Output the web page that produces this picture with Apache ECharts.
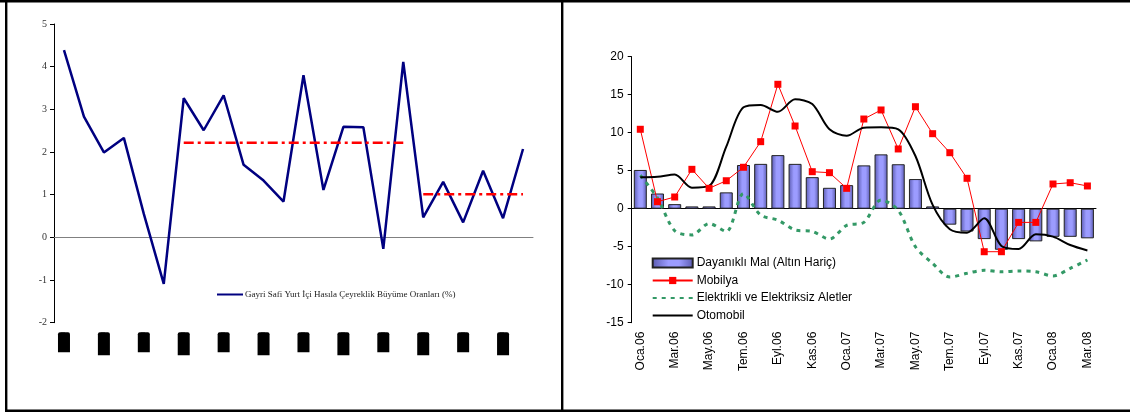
<!DOCTYPE html>
<html>
<head>
<meta charset="utf-8">
<script src="https://cdn.jsdelivr.net/npm/echarts@6/dist/echarts.min.js"></script>
<style>
  html, body { margin: 0; padding: 0; background: #fff; }
  #chart { width: 1130px; height: 412px; }
</style>
</head>
<body>
<div id="chart"></div>
<script>
// Left panel: quarterly GDP growth (%), 2002-I .. 2007-IV
const gdpQuarters = [
  '2002-I', '2002-II', '2002-III', '2002-IV',
  '2003-I', '2003-II', '2003-III', '2003-IV',
  '2004-I', '2004-II', '2004-III', '2004-IV',
  '2005-I', '2005-II', '2005-III', '2005-IV',
  '2006-I', '2006-II', '2006-III', '2006-IV',
  '2007-I', '2007-II', '2007-III', '2007-IV'
];
const gdpGrowth = [
  4.39, 2.83, 1.99, 2.33, 0.55, -1.09, 3.26, 2.51, 3.33, 1.70, 1.33, 0.84,
  3.80, 1.11, 2.59, 2.58, -0.27, 4.11, 0.47, 1.30, 0.35, 1.56, 0.45, 2.07
];
// Period averages (dash-dot reference levels)
const avgPeriod1 = [
  null, null, null, null, null, null, 2.22, 2.22, 2.22, 2.22, 2.22, 2.22,
  2.22, 2.22, 2.22, 2.22, 2.22, 2.22, null, null, null, null, null, null
];
const avgPeriod2 = [
  null, null, null, null, null, null, null, null, null, null, null, null,
  null, null, null, null, null, null, 1.01, 1.01, 1.01, 1.01, 1.01, 1.01
];
const gdpTicks = { min: -2, max: 5, step: 1 };

// Right panel: monthly durable goods indicators (%)
const months = [
  'Oca.06', 'Şub.06', 'Mar.06', 'Nis.06', 'May.06', 'Haz.06', 'Tem.06', 'Ağu.06', 'Eyl.06',
  'Eki.06', 'Kas.06', 'Ara.06', 'Oca.07', 'Şub.07', 'Mar.07', 'Nis.07', 'May.07', 'Haz.07',
  'Tem.07', 'Ağu.07', 'Eyl.07', 'Eki.07', 'Kas.07', 'Ara.07', 'Oca.08', 'Şub.08', 'Mar.08'
];
const durableGoods = [
  5.1, 2.0, 0.6, 0.3, 0.3, 2.15, 5.75, 5.9, 7.05, 5.9, 4.15, 2.75, 3.1, 5.7,
  7.15, 5.85, 3.9, 0.3, -2.1, -3.0, -4.0, -5.4, -4.0, -4.3, -3.7, -3.7, -3.9
];
const furniture = [
  10.45, 0.92, 1.54, 5.18, 2.68, 3.68, 5.45, 8.82, 16.37, 10.88, 4.87, 4.74, 2.68, 11.8,
  12.99, 7.86, 13.42, 9.87, 7.37, 4.0, -5.66, -5.66, -1.8, -1.8, 3.25, 3.42, 2.99
];
const appliances = [
  4.4, 1.4, -2.9, -3.45, -1.95, -3.0, 2.0, -0.85, -1.5, -2.8, -3.0, -4.0, -2.2, -1.8,
  1.15, -0.2, -5.0, -7.2, -9.0, -8.5, -8.1, -8.3, -8.2, -8.3, -8.85, -7.85, -6.75
];
const automobiles = [
  4.13, 4.21, 4.5, 2.77, 2.99, 8.16, 13.34, 13.64, 12.76, 14.39, 13.78, 10.45, 9.6, 10.66,
  10.71, 10.45, 6.93, 0.5, -2.7, -3.15, -1.27, -4.9, -5.3, -3.37, -3.68, -4.78, -5.5
];
const monthTicks = { min: -15, max: 20, step: 5 };

const gdpName = 'Gayri Safi Yurt İçi Hasıla Çeyreklik Büyüme Oranları (%)';
const names = ['Dayanıklı Mal (Altın Hariç)', 'Mobilya', 'Elektrikli ve Elektriksiz Aletler', 'Otomobil'];

const serif = "'Liberation Serif', 'Times New Roman', serif";
const sans = "'Liberation Sans', Arial, sans-serif";

const barFill = new echarts.graphic.LinearGradient(0, 0, 1, 0, [
  { offset: 0, color: '#5a5ab0' },
  { offset: 0.4, color: '#9c9cff' },
  { offset: 0.65, color: '#9c9cff' },
  { offset: 1, color: '#5a5ab0' }
]);

// legend entries for plain lines: keep the line, hide the marker
const noMarker = { color: 'rgba(0,0,0,0)', borderWidth: 0, opacity: 0 };

const chart = echarts.init(document.getElementById('chart'), null, { renderer: 'canvas' });

chart.setOption({
  animation: false,
  backgroundColor: '#ffffff',
  grid: [
    { left: 54, top: 24, width: 479, height: 298.7, outerBoundsMode: 'none', containLabel: false },
    { left: 631.7, top: 56.7, width: 464.3, height: 266, outerBoundsMode: 'none', containLabel: false }
  ],
  xAxis: [
    {
      gridIndex: 0,
      type: 'category',
      data: gdpQuarters,
      boundaryGap: true,
      axisLine: { onZero: true, lineStyle: { color: '#808080', width: 1 } },
      axisTick: { show: false },
      axisLabel: {
        interval: 1,
        rotate: 90,
        margin: 9.5,
        formatter: function (v) {
          return (/-III$/.test(v) ? '{b|' : '{a|') + v + '}';
        },
        rich: {
          a: { width: 20, height: 12, fontSize: 5, color: '#000', backgroundColor: '#000', borderRadius: [0, 2, 2, 0] },
          b: { width: 23, height: 12, fontSize: 5, color: '#000', backgroundColor: '#000', borderRadius: [0, 2, 2, 0] }
        }
      }
    },
    {
      gridIndex: 1,
      type: 'category',
      data: months,
      boundaryGap: true,
      axisLine: { onZero: true, lineStyle: { color: '#000', width: 1 } },
      axisTick: { interval: 1, length: 4, lineStyle: { color: '#000' } },
      axisLabel: {
        interval: 1,
        rotate: 90,
        margin: 9,
        fontFamily: sans,
        fontSize: 12,
        color: '#000'
      }
    }
  ],
  yAxis: [
    {
      gridIndex: 0,
      type: 'value',
      min: gdpTicks.min,
      max: gdpTicks.max,
      interval: gdpTicks.step,
      axisLine: { show: true, onZero: false, lineStyle: { color: '#000', width: 1 } },
      axisTick: { show: true, length: 4, lineStyle: { color: '#000' } },
      splitLine: { show: false },
      axisLabel: { margin: 7, fontFamily: serif, fontSize: 10, color: '#333' }
    },
    {
      gridIndex: 1,
      type: 'value',
      min: monthTicks.min,
      max: monthTicks.max,
      interval: monthTicks.step,
      axisLine: { show: true, onZero: false, lineStyle: { color: '#000', width: 1 } },
      axisTick: { show: true, length: 4, lineStyle: { color: '#000' } },
      splitLine: { show: false },
      axisLabel: { margin: 8, fontFamily: sans, fontSize: 12, color: '#000' }
    }
  ],
  legend: [
    {
      data: [{ name: gdpName, itemStyle: noMarker }],
      left: 211,
      top: 285,
      itemWidth: 26,
      itemHeight: 8,
      textStyle: { fontFamily: serif, fontSize: 9, color: '#222', padding: [0, 0, 0, -3] }
    },
    {
      data: [
        { name: names[0], icon: 'rect' },
        names[1],
        { name: names[2], itemStyle: noMarker },
        { name: names[3], itemStyle: noMarker }
      ],
      orient: 'vertical',
      left: 646.7,
      top: 251,
      itemWidth: 40,
      itemHeight: 9,
      itemGap: 3.5,
      textStyle: { fontFamily: sans, fontSize: 12, color: '#000', lineHeight: 14, padding: [0, 0, 0, -1] }
    }
  ],
  graphic: [
    { type: 'rect', shape: { x: 0, y: 0, width: 1130, height: 2.6 }, style: { fill: '#000' } },
    { type: 'rect', shape: { x: 5, y: 0, width: 2.4, height: 412 }, style: { fill: '#000' } },
    { type: 'rect', shape: { x: 561, y: 0, width: 2.4, height: 412 }, style: { fill: '#000' } },
    { type: 'rect', shape: { x: 5, y: 409.4, width: 1125, height: 2.6 }, style: { fill: '#000' } }
  ],
  series: [
    {
      name: gdpName,
      type: 'line',
      xAxisIndex: 0,
      yAxisIndex: 0,
      data: gdpGrowth,
      symbol: 'none',
      lineStyle: { color: '#000080', width: 2.5 },
      itemStyle: { color: '#000080' }
    },
    {
      name: 'Ortalama 1',
      type: 'line',
      xAxisIndex: 0,
      yAxisIndex: 0,
      data: avgPeriod1,
      symbol: 'none',
      silent: true,
      lineStyle: { color: '#ff0000', width: 2.5, type: [10, 4, 3, 4] }
    },
    {
      name: 'Ortalama 2',
      type: 'line',
      xAxisIndex: 0,
      yAxisIndex: 0,
      data: avgPeriod2,
      symbol: 'none',
      silent: true,
      lineStyle: { color: '#ff0000', width: 2.5, type: [10, 4, 3, 4] }
    },
    {
      name: names[0],
      type: 'bar',
      xAxisIndex: 1,
      yAxisIndex: 1,
      data: durableGoods,
      barWidth: 13,
      itemStyle: { color: barFill, borderColor: '#222', borderWidth: 1 }
    },
    {
      name: names[1],
      type: 'line',
      xAxisIndex: 1,
      yAxisIndex: 1,
      data: furniture,
      symbol: 'rect',
      symbolSize: 7,
      lineStyle: { color: '#ff0000', width: 1 },
      itemStyle: { color: '#ff0000' }
    },
    {
      name: names[2],
      type: 'line',
      xAxisIndex: 1,
      yAxisIndex: 1,
      data: appliances,
      symbol: 'none',
      smooth: 0.3,
      lineStyle: { color: '#339966', width: 3, type: [4, 5] },
      itemStyle: { color: '#339966' }
    },
    {
      name: names[3],
      type: 'line',
      xAxisIndex: 1,
      yAxisIndex: 1,
      data: automobiles,
      symbol: 'none',
      smooth: 0.3,
      lineStyle: { color: '#000', width: 2 },
      itemStyle: { color: '#000' }
    }
  ]
});
</script>
</body>
</html>
